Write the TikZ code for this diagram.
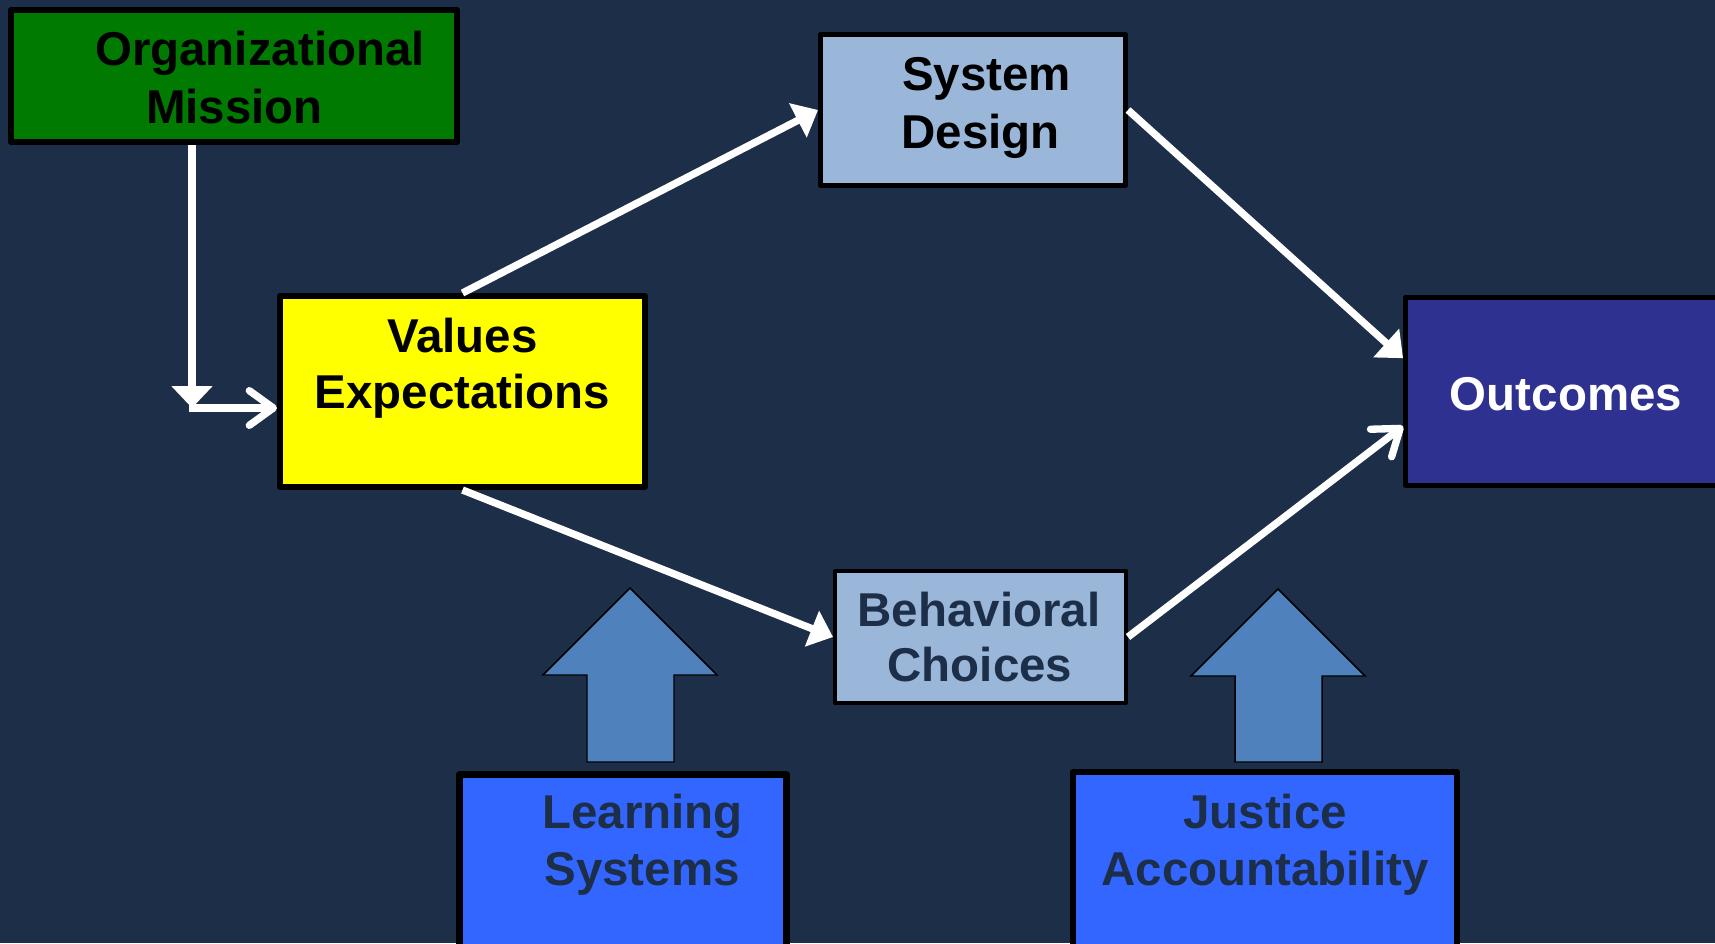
\documentclass[tikz,border=0pt]{standalone}
\usepackage{fontspec}
\setmainfont{Liberation Sans}
\usetikzlibrary{arrows.meta,calc}

\definecolor{bgnavy}{HTML}{1D2E48}
\definecolor{missiongreen}{HTML}{007A00}
\definecolor{valyellow}{HTML}{FFFF00}
\definecolor{paleblue}{HTML}{9AB7D9}
\definecolor{outindigo}{HTML}{2E3190}
\definecolor{brightblue}{HTML}{3366FF}
\definecolor{steelblue}{HTML}{4F81BD}

\begin{document}
\begin{tikzpicture}[x=0.75pt,y=-0.75pt,
  box/.style={draw=black, line join=round, inner sep=0pt},
  lbl/.style={font=\fontsize{35.6}{42}\selectfont\bfseries, inner sep=0pt, anchor=base},
  flow/.style={draw=white, line width=5.5pt},
  solidtip/.style={-{Triangle[length=17pt,width=28pt]}},
  opentip/.style={-{Straight Barb[length=18pt,width=26pt,round]}},
  blockarrow/.style={fill=steelblue, draw=black, line width=1.1pt, line join=miter}
]
% page and backdrop
\useasboundingbox (0,0) rectangle (1715,943);
\fill[bgnavy] (0,0) rectangle (1715,943);
\clip (0,0) rectangle (1715,943);

% boxes
\node[box, fill=missiongreen, line width=4.5pt, minimum width=334.5pt, minimum height=99pt] (mis) at (234,76) {};
\node[box, fill=valyellow, line width=4.5pt, minimum width=273.75pt, minimum height=143.25pt] (val) at (462.5,391.5) {};
\node[box, fill=paleblue, line width=3.75pt, minimum width=228.75pt, minimum height=113.25pt] (sys) at (973,110) {};
\node[box, fill=paleblue, line width=3pt, minimum width=218.25pt, minimum height=99pt] (beh) at (980.5,637) {};
\node[box, fill=outindigo, line width=3.75pt, minimum width=239.6pt, minimum height=141pt] (out) at (1565.25,391.5) {};
\node[box, fill=brightblue, line width=5pt, minimum width=245.25pt, minimum height=139pt] (lea) at (623,867) {};
\node[box, fill=brightblue, line width=4.5pt, minimum width=288pt, minimum height=141pt] (jus) at (1265,866) {};

% box texts
\node[lbl] (misA) at (260,65) {Organizational};
\node[lbl] (misB) at (234.5,123) {Mission};
\node[lbl] (valA) at (462.5,352) {Values};
\node[lbl] (valB) at (462.5,408) {Expectations};
\node[lbl] (sysA) at (986.5,90) {System};
\node[lbl] (sysB) at (980.5,148) {Design};
\node[lbl, text=bgnavy] (behA) at (979,626) {Behavioral};
\node[lbl, text=bgnavy] (behB) at (980,681) {Choices};
\node[lbl, text=white] (outA) at (1566,410) {Outcomes};
\node[lbl, text=bgnavy] (leaA) at (642.5,828) {Learning};
\node[lbl, text=bgnavy] (leaB) at (642,885) {Systems};
\node[lbl, text=bgnavy] (jusA) at (1265,828) {Justice};
\node[lbl, text=bgnavy] (jusB) at (1265,885) {Accountability};

% influence arrows rising from the bottom boxes
\draw[blockarrow] (630,588) -- (717,675) -- (674,675) -- (674,762) -- (587,762) -- (587,675) -- (543,675) -- cycle;
\draw[blockarrow] (1278,589) -- (1365,676) -- (1322,676) -- (1322,762) -- (1235,762) -- (1235,676) -- (1191,676) -- cycle;

% mission feeds values
\coordinate (bend) at (192,408);
\draw[flow, -{Triangle[length=16.5pt,width=30pt]}] ([xshift=-31.5pt]mis.south) -- (bend);
\draw[flow, opentip] ([xshift=-2.5pt]bend) -- (bend -| val.west);

% main flow
\draw[flow, solidtip] (val.north) -- (sys.west);
\draw[flow, solidtip] (val.south) -- (beh.west);
\draw[flow, solidtip] (sys.east) -- ([yshift=25pt]out.west);
\draw[flow, opentip] (beh.east) -- ([yshift=-26pt]out.west);
\end{tikzpicture}
\end{document}
